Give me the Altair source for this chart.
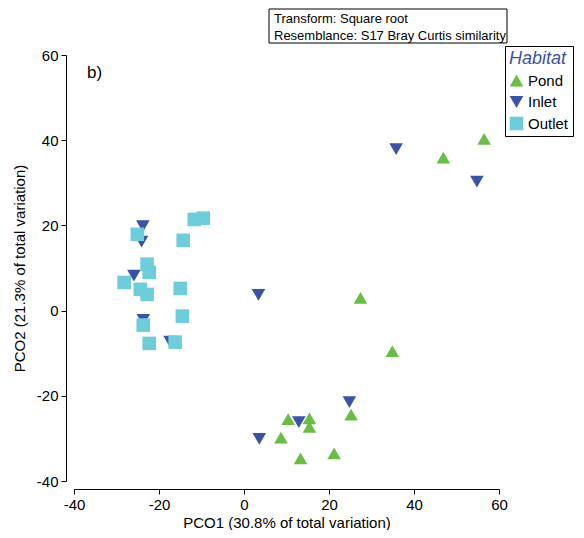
import altair as alt
import pandas as pd

FONT = "Liberation Sans"

habitats = ["Pond", "Inlet", "Outlet"]
colors = ["#6abd45", "#3a53a4", "#6dcddb"]
shapes = ["triangle-up", "triangle-down", "square"]
sizes = [185, 185, 125]

pond_x = [27.4, 34.9, 25.2, 10.4, 15.4, 15.4, 8.7, 21.2, 13.3, 46.9, 56.5]
pond_y = [3.0, -9.5, -24.4, -25.5, -25.3, -27.3, -29.8, -33.5, -34.7, 35.9, 40.3]

inlet_x = [-23.8, -24.1, -25.9, -23.7, -23.7, -17.4, 3.4, 24.8, 12.9, 3.6, 35.8, 54.8]
inlet_y = [19.8, 16.2, 8.2, 3.6, -2.2, -7.3, 3.7, -21.5, -26.2, -30.1, 37.9, 30.3]

outlet_x = [-25.1, -11.7, -9.6, -14.3, -22.8, -22.3, -28.2, -24.4, -22.8, -15.0,
            -23.7, -14.5, -22.3, -16.2]
outlet_y = [17.9, 21.4, 21.7, 16.5, 10.9, 9.0, 6.6, 5.0, 3.8, 5.2,
            -3.4, -1.3, -7.7, -7.4]

ticks = [-40, -20, 0, 20, 40, 60]
x_title = "PCO1 (30.8% of total variation)"
y_title = "PCO2 (21.3% of total variation)"
note_lines = ["Transform: Square root", "Resemblance: S17 Bray Curtis similarity"]
panel_label = "b)"

rows = []
for h, xs, ys in [("Pond", pond_x, pond_y), ("Inlet", inlet_x, inlet_y), ("Outlet", outlet_x, outlet_y)]:
    for xv, yv in zip(xs, ys):
        rows.append({"Habitat": h, "x": xv, "y": yv})
df = pd.DataFrame(rows)

legend = alt.Legend(
    title="Habitat", orient="none", legendX=431, legendY=-9,
    strokeColor="black", fillColor="white", padding=4,
    titleFont=FONT, titleFontSize=18, titleFontStyle="italic", titleFontWeight="normal",
    titleColor="#3a53a4", titlePadding=5,
    labelFont=FONT, labelFontSize=15, labelColor="black", labelOffset=4,
    rowPadding=5.5, symbolStrokeWidth=0,
)

def axis(title, title_pad):
    return alt.Axis(
        values=ticks, title=title, offset=8, grid=False,
        labelExpr="'' + datum.value",
        domainColor="black", domainWidth=1, tickColor="black", tickSize=5, tickWidth=1,
        labelFont=FONT, labelFontSize=15, labelColor="black", labelPadding=3, labelFlush=False,
        titleFont=FONT, titleFontSize=15, titleFontWeight="normal", titleColor="black",
        titlePadding=title_pad,
    )

points = alt.Chart(df).mark_point(filled=True, opacity=1, strokeWidth=0).encode(
    x=alt.X("x:Q", scale=alt.Scale(domain=[-40, 60], nice=False, zero=False), axis=axis(x_title, 3)),
    y=alt.Y("y:Q", scale=alt.Scale(domain=[-40, 60], nice=False, zero=False), axis=axis(y_title, 9)),
    color=alt.Color("Habitat:N", scale=alt.Scale(domain=habitats, range=colors), legend=legend),
    shape=alt.Shape("Habitat:N", scale=alt.Scale(domain=habitats, range=shapes), legend=legend),
    size=alt.Size("Habitat:N", scale=alt.Scale(domain=habitats, range=sizes), legend=legend),
)

one = pd.DataFrame({"k": [0]})

box = alt.Chart(one).mark_rect(fillOpacity=0, stroke="black", strokeWidth=1).encode(
    x=alt.value(195), x2=alt.value(433), y=alt.value(-46), y2=alt.value(-12)
)

notes = alt.Chart(one).mark_text(
    text=note_lines, align="left", baseline="top", font=FONT, fontSize=13,
    lineHeight=17, color="black"
).encode(x=alt.value(200), y=alt.value(-42))

blabel = alt.Chart(one).mark_text(
    text=panel_label, align="left", baseline="middle", font=FONT, fontSize=17, color="black"
).encode(x=alt.value(13), y=alt.value(18))

chart = alt.layer(points, box, notes, blabel).properties(
    width=425, height=426,
    padding={"left": 66, "top": 47, "right": 77, "bottom": 49},
    autosize=alt.AutoSizeParams(type="none"),
).configure_view(stroke=None)

chart.save("out.html", embed_options={"renderer": "svg", "actions": False})
